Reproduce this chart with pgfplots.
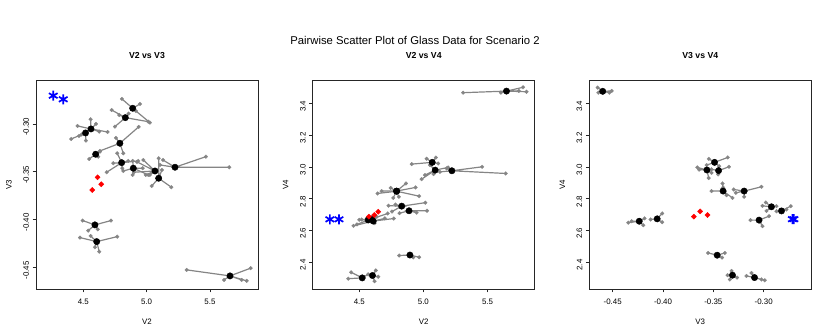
\documentclass[border=0pt]{standalone}
\usepackage{fontspec}
\setmainfont{Liberation Sans}
\usepackage{pgfplots}
\pgfplotsset{compat=1.18}
\definecolor{rgray}{HTML}{858585}
\pgfplotsset{
  rpanel/.style={
    scale only axis, width=222pt, height=209pt, anchor=south west,
    axis line style={black!85, line width=0.7pt},
    tick align=outside, xtick pos=bottom, ytick pos=left,
    major tick length=3.5pt, tick style={black!85, line width=0.6pt},
    tick label style={font=\fontsize{7.9}{9}\selectfont},
    xticklabel style={yshift=-3pt},
    yticklabel style={rotate=90, anchor=south, xshift=-3pt},
    label style={font=\fontsize{7.9}{9}\selectfont},
    xlabel style={at={(axis description cs:0.5,0)}, anchor=center, yshift=-33pt},
    ylabel style={at={(axis description cs:0,0.5)}, anchor=center, rotate=0, yshift=27pt},
    title style={at={(axis description cs:0.5,1)}, anchor=center, yshift=18pt, font=\bfseries\fontsize{8.7}{10}\selectfont},
    clip=true,
  },
  spk/.style={rgray, line width=1.2pt, mark=*, mark size=1.9pt, mark options={fill=rgray, draw=rgray, line width=0.2pt}},
  ctr/.style={only marks, mark=*, mark size=3.2pt, mark options={fill=black, draw=black}},
  red/.style={only marks, mark=square*, mark size=1.8pt, mark options={rotate=45, fill=red, draw=red}},
  blu/.style={only marks, mark=asterisk, mark size=5pt, mark options={draw=blue, line width=1.7pt}},
}
\begin{document}
\begin{tikzpicture}
\useasboundingbox (0,0) rectangle (830pt,334pt);
\node[font=\fontsize{11.3}{13}\selectfont] at (415pt,294pt) {Pairwise Scatter Plot of Glass Data for Scenario 2};
% ---------------- Panel 1: V2 vs V3
\begin{axis}[rpanel, at={(36pt,45pt)},
  xmin=4.127, xmax=5.879, ymin=-0.4727, ymax=-0.254,
  xtick={4.5,5,5.5}, xticklabels={4.5,5.0,5.5},
  ytick={-0.45,-0.40,-0.35,-0.30}, yticklabels={-0.45,-0.40,-0.35,-0.30},
  xlabel={V2}, ylabel={V3}, title={V2 vs V3}]
\addplot[spk] coordinates {(4.890,-0.2836)(4.805,-0.2738)(4.890,-0.2836)(4.948,-0.2791)(4.890,-0.2836)(4.916,-0.2864)(4.890,-0.2836)(5.026,-0.2986)};
\addplot[spk] coordinates {(4.832,-0.2934)(4.724,-0.2854)(4.832,-0.2934)(4.750,-0.3028)(4.832,-0.2934)(5.013,-0.2976)(4.832,-0.2934)(4.784,-0.2906)(4.832,-0.2934)(4.858,-0.2892)};
\addplot[spk] coordinates {(4.561,-0.3052)(4.558,-0.2951)(4.561,-0.3052)(4.600,-0.3000)(4.561,-0.3052)(4.692,-0.3084)(4.561,-0.3052)(4.626,-0.3080)(4.561,-0.3052)(4.455,-0.3021)};
\addplot[spk] coordinates {(4.518,-0.3094)(4.405,-0.3157)(4.518,-0.3094)(4.466,-0.3126)(4.518,-0.3094)(4.521,-0.3174)(4.518,-0.3094)(4.487,-0.3110)};
\addplot[spk] coordinates {(4.789,-0.3202)(4.937,-0.3031)(4.789,-0.3202)(4.632,-0.3282)(4.789,-0.3202)(4.816,-0.3307)(4.789,-0.3202)(4.758,-0.3146)};
\addplot[spk] coordinates {(4.598,-0.3317)(4.547,-0.3366)(4.598,-0.3317)(4.632,-0.3290)(4.598,-0.3317)(4.618,-0.3342)};
\addplot[spk] coordinates {(4.803,-0.3405)(4.737,-0.3411)(4.803,-0.3405)(4.768,-0.3307)(4.803,-0.3405)(4.685,-0.3505)(4.803,-0.3405)(4.855,-0.3387)(4.803,-0.3405)(4.808,-0.3463)(4.803,-0.3405)(4.934,-0.3387)};
\addplot[spk] coordinates {(4.895,-0.3463)(4.890,-0.3387)(4.895,-0.3463)(4.816,-0.3492)(4.895,-0.3463)(4.890,-0.3533)(4.895,-0.3463)(4.969,-0.3463)(4.895,-0.3463)(5.013,-0.3533)};
\addplot[spk] coordinates {(5.066,-0.3492)(4.974,-0.3377)(5.066,-0.3492)(4.993,-0.3533)(5.066,-0.3492)(5.026,-0.3533)(5.066,-0.3492)(4.924,-0.3397)(5.066,-0.3492)(4.900,-0.3505)};
\addplot[spk] coordinates {(5.224,-0.3453)(5.468,-0.3342)(5.224,-0.3453)(5.652,-0.3453)(5.224,-0.3453)(5.105,-0.3429)(5.224,-0.3453)(5.129,-0.3377)};
\addplot[spk] coordinates {(5.095,-0.3568)(5.040,-0.3649)(5.095,-0.3568)(5.195,-0.3662)(5.095,-0.3568)(5.095,-0.3359)(5.095,-0.3568)(5.121,-0.3481)};
\addplot[spk] coordinates {(4.592,-0.4056)(4.495,-0.4011)(4.592,-0.4056)(4.719,-0.4011)(4.592,-0.4056)(4.539,-0.4116)(4.592,-0.4056)(4.614,-0.4102)};
\addplot[spk] coordinates {(4.606,-0.4231)(4.474,-0.4189)(4.606,-0.4231)(4.768,-0.4179)(4.606,-0.4231)(4.558,-0.4172)(4.606,-0.4231)(4.592,-0.4290)(4.606,-0.4231)(4.626,-0.4336)};
\addplot[spk] coordinates {(5.658,-0.4590)(5.316,-0.4527)(5.658,-0.4590)(5.821,-0.4509)(5.658,-0.4590)(5.611,-0.4632)(5.658,-0.4590)(5.790,-0.4642)(5.658,-0.4590)(5.750,-0.4632)};
\addplot[ctr] coordinates {(4.890,-0.2836)(4.832,-0.2934)(4.561,-0.3052)(4.518,-0.3094)(4.789,-0.3202)(4.598,-0.3317)(4.803,-0.3405)(4.895,-0.3463)(5.066,-0.3492)(5.224,-0.3453)(5.095,-0.3568)(4.592,-0.4056)(4.606,-0.4231)(5.658,-0.4590)};
\addplot[red] coordinates {(4.613,-0.3558)(4.642,-0.3631)(4.571,-0.3691)};
\addplot[blu] coordinates {(4.263,-0.2704)(4.342,-0.2742)};
\end{axis}
% ---------------- Panel 2: V2 vs V4
\begin{axis}[rpanel, at={(312.7pt,45pt)},
  xmin=4.137, xmax=5.868, ymin=2.230, ymax=3.547,
  xtick={4.5,5,5.5}, xticklabels={4.5,5.0,5.5},
  ytick={2.4,2.6,2.8,3.0,3.2,3.4}, yticklabels={2.4,2.6,2.8,3.0,3.2,3.4},
  xlabel={V2}, ylabel={V4}, title={V2 vs V4}]
\addplot[spk] coordinates {(5.648,3.477)(5.310,3.467)(5.648,3.477)(5.604,3.467)(5.648,3.477)(5.777,3.501)(5.648,3.477)(5.804,3.473)(5.648,3.477)(5.744,3.478)};
\addplot[spk] coordinates {(5.069,3.028)(5.025,3.051)(5.069,3.028)(5.097,3.058)(5.069,3.028)(5.115,3.021)(5.069,3.028)(4.909,3.017)};
\addplot[spk] coordinates {(5.092,2.979)(4.986,2.922)(5.092,2.979)(5.012,2.948)(5.092,2.979)(5.193,2.996)(5.092,2.979)(5.079,2.954)(5.092,2.979)(5.051,3.011)};
\addplot[spk] coordinates {(5.222,2.975)(5.458,3.000)(5.222,2.975)(5.642,2.958)(5.222,2.975)(5.181,2.990)(5.222,2.975)(5.129,2.968)};
\addplot[spk] coordinates {(4.791,2.847)(4.864,2.895)(4.791,2.847)(4.939,2.870)(4.791,2.847)(4.674,2.847)(4.791,2.847)(4.765,2.804)};
\addplot[spk] coordinates {(4.791,2.846)(4.967,2.815)(4.791,2.846)(4.745,2.867)(4.791,2.846)(4.643,2.832)(4.791,2.846)(4.809,2.811)};
\addplot[spk] coordinates {(4.831,2.752)(4.728,2.755)(4.831,2.752)(4.782,2.762)(4.831,2.752)(5.015,2.774)(4.831,2.752)(4.755,2.718)};
\addplot[spk] coordinates {(4.888,2.723)(5.028,2.723)(4.888,2.723)(4.947,2.711)(4.888,2.723)(4.814,2.708)};
\addplot[spk] coordinates {(4.570,2.665)(4.500,2.666)(4.570,2.665)(4.482,2.637)(4.570,2.665)(4.636,2.685)(4.570,2.665)(4.560,2.675)};
\addplot[spk] coordinates {(4.609,2.658)(4.455,2.628)(4.609,2.658)(4.769,2.674)(4.609,2.658)(4.700,2.675)(4.609,2.658)(4.620,2.645)};
\addplot[spk] coordinates {(4.595,2.671)(4.722,2.706)(4.595,2.671)(4.519,2.668)};
\addplot[spk] coordinates {(4.895,2.444)(4.811,2.441)(4.895,2.444)(4.967,2.430)(4.895,2.444)(4.921,2.429)};
\addplot[spk] coordinates {(4.523,2.300)(4.437,2.335)(4.523,2.300)(4.414,2.295)(4.523,2.300)(4.569,2.322)};
\addplot[spk] coordinates {(4.603,2.315)(4.629,2.347)(4.603,2.315)(4.648,2.307)(4.603,2.315)(4.619,2.279)};
\addplot[ctr] coordinates {(5.648,3.477)(5.069,3.028)(5.092,2.979)(5.222,2.975)(4.791,2.847)(4.791,2.846)(4.831,2.752)(4.888,2.723)(4.595,2.671)(4.570,2.665)(4.609,2.658)(4.895,2.444)(4.523,2.300)(4.603,2.315)};
\addplot[red] coordinates {(4.575,2.686)(4.617,2.696)(4.648,2.717)};
\addplot[blu] coordinates {(4.271,2.669)(4.342,2.669)};
\end{axis}
% ---------------- Panel 3: V3 vs V4
\begin{axis}[rpanel, at={(589.3pt,45pt)},
  xmin=-0.4732, xmax=-0.2527, ymin=2.230, ymax=3.547,
  xtick={-0.45,-0.40,-0.35,-0.30}, xticklabels={-0.45,-0.40,-0.35,-0.30},
  ytick={2.4,2.6,2.8,3.0,3.2,3.4}, yticklabels={2.4,2.6,2.8,3.0,3.2,3.4},
  xlabel={V3}, ylabel={V4}, title={V3 vs V4}]
\addplot[spk] coordinates {(-0.4599,3.4756)(-0.4649,3.499)(-0.4599,3.4756)(-0.4642,3.467)(-0.4599,3.4756)(-0.4533,3.467)(-0.4599,3.4756)(-0.4510,3.478)};
\addplot[spk] coordinates {(-0.3488,3.028)(-0.3545,3.050)(-0.3488,3.028)(-0.3357,3.059)(-0.3488,3.028)(-0.3567,3.011)(-0.3488,3.028)(-0.3442,3.004)};
\addplot[spk] coordinates {(-0.3564,2.980)(-0.3659,2.996)(-0.3564,2.980)(-0.3641,2.982)(-0.3564,2.980)(-0.3546,2.929)(-0.3564,2.980)(-0.3518,2.962)};
\addplot[spk] coordinates {(-0.3448,2.976)(-0.3345,3.000)(-0.3448,2.976)(-0.3452,2.952)(-0.3448,2.976)(-0.3518,2.984)};
\addplot[spk] coordinates {(-0.3403,2.847)(-0.3518,2.847)(-0.3403,2.847)(-0.3409,2.895)(-0.3403,2.847)(-0.3403,2.870)(-0.3403,2.847)(-0.3369,2.821)(-0.3403,2.847)(-0.3310,2.804)};
\addplot[spk] coordinates {(-0.3194,2.847)(-0.3022,2.874)(-0.3194,2.847)(-0.3297,2.857)(-0.3194,2.847)(-0.3277,2.836)(-0.3194,2.847)(-0.3194,2.811)};
\addplot[spk] coordinates {(-0.2923,2.748)(-0.2979,2.775)(-0.2923,2.748)(-0.2972,2.722)(-0.2923,2.748)(-0.2873,2.752)(-0.2923,2.748)(-0.3012,2.754)};
\addplot[spk] coordinates {(-0.2823,2.722)(-0.2731,2.752)(-0.2823,2.722)(-0.2774,2.731)(-0.2823,2.722)(-0.2873,2.720)};
\addplot[spk] coordinates {(-0.3046,2.664)(-0.3131,2.664)(-0.3046,2.664)(-0.2947,2.689)(-0.3046,2.664)(-0.3012,2.626)};
\addplot[spk] coordinates {(-0.4058,2.672)(-0.4008,2.706)(-0.4058,2.672)(-0.4123,2.668)(-0.4058,2.672)(-0.4008,2.651)};
\addplot[spk] coordinates {(-0.4236,2.657)(-0.4312,2.657)(-0.4236,2.657)(-0.4345,2.648)(-0.4236,2.657)(-0.4196,2.632)(-0.4236,2.657)(-0.4183,2.675)};
\addplot[spk] coordinates {(-0.3462,2.443)(-0.3552,2.457)(-0.3462,2.443)(-0.3386,2.457)(-0.3462,2.443)(-0.3413,2.428)};
\addplot[spk] coordinates {(-0.3310,2.317)(-0.3319,2.344)(-0.3310,2.317)(-0.3359,2.317)(-0.3310,2.317)(-0.3264,2.302)(-0.3310,2.317)(-0.3336,2.290)};
\addplot[spk] coordinates {(-0.3091,2.302)(-0.3171,2.312)(-0.3091,2.302)(-0.3121,2.331)(-0.3091,2.302)(-0.2989,2.285)(-0.3091,2.302)(-0.3022,2.290)};
\addplot[ctr] coordinates {(-0.4599,3.4756)(-0.3488,3.028)(-0.3564,2.980)(-0.3448,2.976)(-0.3403,2.847)(-0.3194,2.847)(-0.2923,2.748)(-0.2823,2.722)(-0.3046,2.664)(-0.4058,2.672)(-0.4236,2.657)(-0.3462,2.443)(-0.3310,2.317)(-0.3091,2.302)};
\addplot[red] coordinates {(-0.3694,2.686)(-0.3631,2.719)(-0.3558,2.696)};
\addplot[blu] coordinates {(-0.2715,2.670)(-0.2700,2.670)};
\end{axis}
\end{tikzpicture}
\end{document}
